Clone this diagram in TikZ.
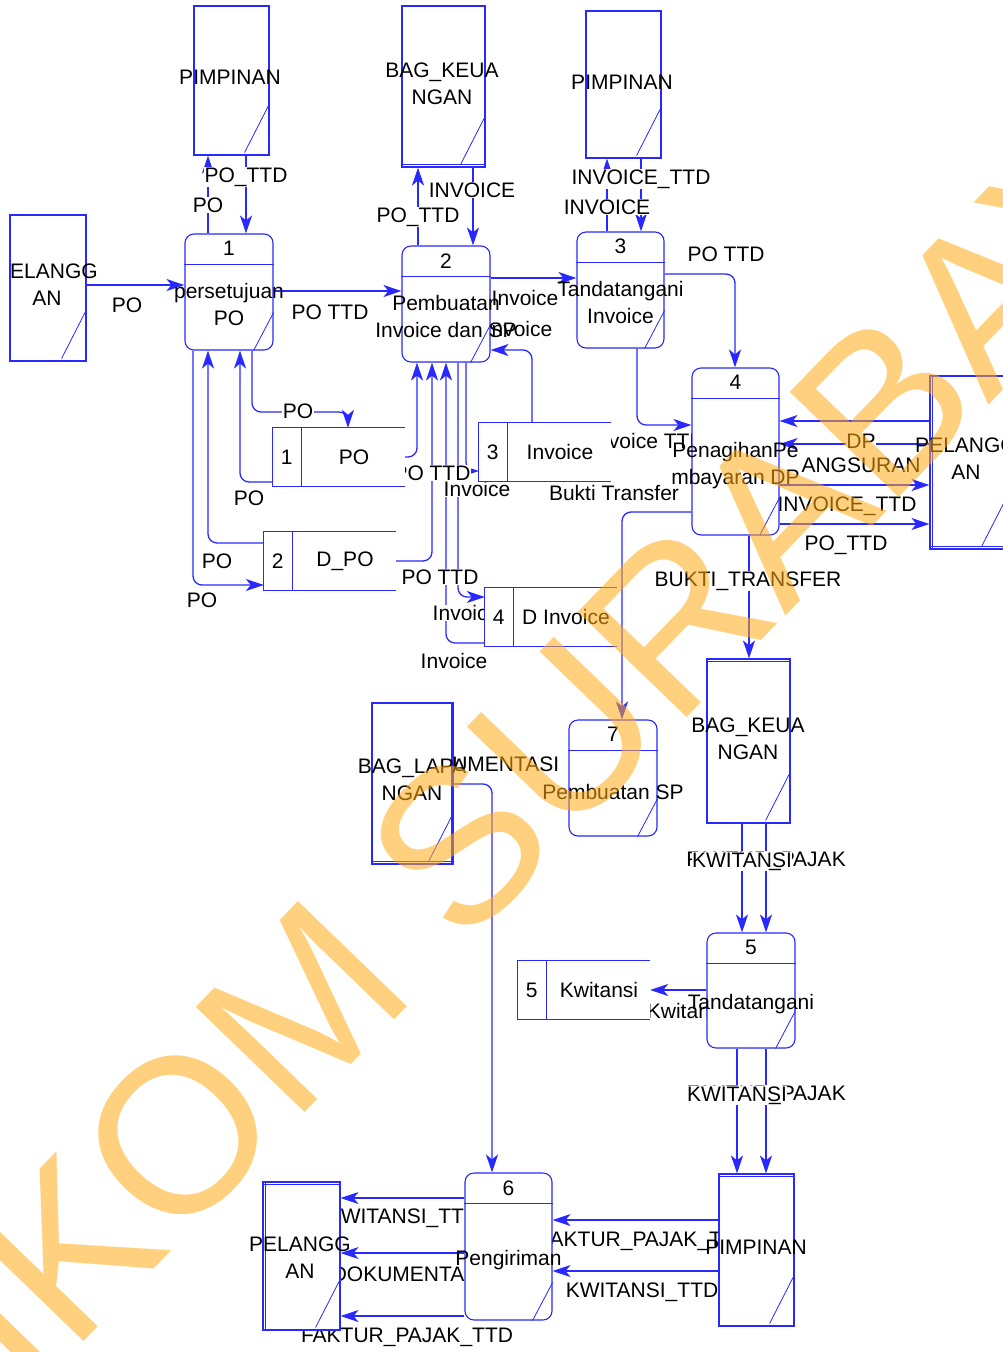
\documentclass[tikz,border=0pt]{standalone}
\usepackage{fontspec}
\setmainfont{Liberation Sans}
\usetikzlibrary{arrows.meta}
\pgfdeclarelayer{bg}
\pgfdeclarelayer{flows}
\pgfsetlayers{bg,flows,main}
\definecolor{dfdblue}{RGB}{40,40,255}
\definecolor{wmorange}{RGB}{255,170,20}
\newcommand{\dfdfont}{\fontsize{21}{27}\selectfont}

\begin{document}
\begin{tikzpicture}[x=1pt, y=-1pt, font=\dfdfont,
  flow/.style={draw=dfdblue, line width=1.3pt, rounded corners=9pt,
    -{Stealth[length=18pt,width=12pt,inset=5pt]}},
  lbl/.style={fill=white, inner sep=0.5pt},
  proc/.style={draw=dfdblue, fill=white, line width=1.1pt, rounded corners=9pt, inner sep=0pt},
  ext/.style={draw=dfdblue, fill=white, line width=1.1pt, inner sep=0pt},
  store/.style={fill=white, inner sep=0pt, minimum width=132pt, minimum height=58pt},
  edge line/.style={draw=dfdblue, line width=1.1pt}]

\useasboundingbox (0,0) rectangle (1003,1352);
\begin{pgfonlayer}{bg}
  \fill[white] (0,0) rectangle (1003,1352);
\end{pgfonlayer}

% data stores
\foreach \n/\x/\y/\num/\t in {d1/339/457/1/PO, d2/330/561/2/D\_PO, d3/545/452/3/Invoice,
    d4/551/617/4/D Invoice, d5/584/990/5/Kwitansi}
{
  \node [store] (\n) at (\x,\y) {};
  \draw [edge line] (\n.north east) -- (\n.north west) -- (\n.south west) -- (\n.south east);
  \draw [edge line] ([xshift=29pt]\n.north west) -- ([xshift=29pt]\n.south west);
  \node (\n-n) at ([xshift=14pt]\n.west) {\num};
  \node (\n-t) at ([xshift=15pt]\n.center) {\t};
}

% processes
\foreach \n/\x/\y/\w/\h in {p1/229/292/88/116, p2/446/304/88/116, p3/620.5/290/87/116,
    p4/735.5/451.5/87/167, p7/613/778/88/116, p5/751/990.5/88/115, p6/508.5/1246.5/87/147}
{
  \node [proc, minimum width=\w pt, minimum height=\h pt] (\n) at (\x,\y) {};
  \draw [edge line] ([yshift=-31pt]\n.north west) -- ([yshift=-31pt]\n.north east);
  \draw [edge line, line width=0.8pt] ([xshift=-20pt]\n.south east) -- ([yshift=38pt]\n.south east);
}

\foreach \n/\num/\ny/\t/\ty in {p1/1/248/persetujuan\\PO/304, p2/2/261/Pembuatan\\Invoice dan SP/316.5,
    p3/3/246/Tandatangani\\Invoice/302.5, p4/4/382/PenagihanPe\\mbayaran DP/466,
    p7/7/734/Pembuatan SP/792, p5/5/947/Tandatangani/1004, p6/6/1188/Pengiriman/1260}
{
  \node (\n-n) at (\n.center |- 0,\ny) {\num};
  \node [align=center] (\n-t) at (\n.center |- 0,\ty) {\t};
}

% external entities
\foreach \n/\x/\y/\w/\h in {pimA/231.5/80.5/75/149, keuA/443.5/86.5/83/161, pimB/623.5/84.5/75/147,
    pelA/48/288/76/146, pelB/968/462.5/76/173, keuB/748.5/741/83/164, lap/412.5/783.5/81/161,
    pimC/756.5/1250/75/152, pelC/301.5/1256/77/148}
{
  \node [ext, minimum width=\w pt, minimum height=\h pt] (\n) at (\x,\y) {};
  \draw [edge line, line width=0.8pt] ([xshift=-25pt,yshift=3pt]\n.south east)
    -- ([xshift=-1pt,yshift=50pt]\n.south east);
}

\foreach \n/\a/\b/\dx/\dy in {keuA/south west/south east/0/3, pelB/south west/south east/0/3,
    pelB/north west/south west/3/0, keuB/north west/north east/0/-3, lap/south west/south east/0/3,
    lap/north east/south east/-2/0, pimC/north west/north east/0/-3, pelC/north west/north east/0/-3,
    pelC/north west/south west/3/0}
  \draw [edge line, line width=0.8pt] ([xshift=\dx pt,yshift=\dy pt]\n.\a) -- ([xshift=\dx pt,yshift=\dy pt]\n.\b);

\foreach \n/\x/\y/\t in {pimA/230/77/PIMPINAN, keuA/442/83.5/BAG\_KEUA\\NGAN, pimB/622/82/PIMPINAN,
    pelB/966/459/PELANGG\\AN, keuB/748/739/BAG\_KEUA\\NGAN,
    lap/412/780/BAG\_LAPA\\NGAN, pimC/756/1247/PIMPINAN, pelC/300/1257.5/PELANGG\\AN}
  \node [align=center] (\n-t) at (\x,\y) {\t};

\begin{scope}
  \clip (pelA.north west) rectangle (140,400);
  \node [align=center] (pelA-t) at (47,284.5) {PELANGG\\AN};
\end{scope}

% flows
\begin{pgfonlayer}{flows}
\draw [flow] (pelA.east |- 0,285) -- (p1.west |- 0,285);
\draw [flow] (208,0 |- p1.north) -- (208,0 |- pimA.south);
\draw [flow] (246,0 |- pimA.south) -- (246,0 |- p1.north);
\draw [flow] (p1.east |- 0,291) -- (p2.west |- 0,291);
\draw [flow] (418,0 |- p2.north) -- (418,0 |- keuA.south);
\draw [flow] (473,0 |- keuA.south) -- (473,0 |- p2.north);
\draw [flow] (p2.east |- 0,278) -- (p3.west |- 0,278);
\draw [flow] (607,0 |- p3.north) -- (607,0 |- pimB.south);
\draw [flow] (641,0 |- pimB.south) -- (641,0 |- p3.north);
\draw [flow] (p3.east |- 0,274) -| (735,0 |- p4.north);
\draw [flow] (637,0 |- p3.south) |- (p4.west |- 0,425);
\draw [flow] (p4.west |- 0,512) -| (622,0 |- p7.north);
\draw [flow] (532,0 |- d3.north) |- (p2.east |- 0,350);
\draw [flow] (466,0 |- p2.south) |- (d3.west |- 0,471);
\draw [flow] (d1.east) -| (417,0 |- p2.south);
\draw [flow] (d2.east) -| (432,0 |- p2.south);
\draw [flow] (d4.west |- 0,643) -| (446,0 |- p2.south);
\draw [flow] (458,0 |- p2.south) |- (d4.west |- 0,597);
\draw [flow] (193,0 |- p1.south) |- (d2.west |- 0,585);
\draw [flow] (d2.west |- 0,543) -| (208,0 |- p1.south);
\draw [flow] (d1.west |- 0,482) -| (240,0 |- p1.south);
\draw [flow] (252,0 |- p1.south) |- (348,412) -- (348,0 |- d1.north);
\draw [flow] (pelB.west |- 0,421) -- (p4.east |- 0,421);
\draw [flow] (pelB.west |- 0,444) -- (p4.east |- 0,444);
\draw [flow] (p4.east |- 0,485) -- (pelB.west |- 0,485);
\draw [flow] (p4.east |- 0,524) -- (pelB.west |- 0,524);
\draw [flow] (749,0 |- p4.south) -- (749,0 |- keuB.north);
\draw [flow] (742,0 |- keuB.south) -- (742,0 |- p5.north);
\draw [flow] (766,0 |- keuB.south) -- (766,0 |- p5.north);
\draw [flow] (p5.west |- 0,990) -- (d5.east);
\draw [flow] (737,0 |- p5.south) -- (737,0 |- pimC.north);
\draw [flow] (766,0 |- p5.south) -- (766,0 |- pimC.north);
\draw [flow] (lap.east |- 0,784) -| (492,0 |- p6.north);
\draw [flow] (p6.west |- 0,1198) -- (pelC.east |- 0,1198);
\draw [flow] (p6.west |- 0,1253) -- (pelC.east |- 0,1253);
\draw [flow] (p6.west |- 0,1316) -- (pelC.east |- 0,1316);
\draw [flow] (pimC.west |- 0,1220) -- (p6.east |- 0,1220);
\draw [flow] (pimC.west |- 0,1271) -- (p6.east |- 0,1271);

\foreach [count=\i] \x/\y/\t in {127/305/PO, 208/205/PO, 246/177/PO\_TTD, 330/312/PO TTD,
    418/217/PO\_TTD, 472/190/INVOICE, 525/298/Invoice, 607/207/INVOICE, 641/179/INVOICE\_TTD,
    726/254/PO TTD, 648/441/Invoice TTD, 614/493/Bukti Transfer, 519/329/Invoice,
    477/489/Invoice, 432/473/PO TTD, 440/577/PO TTD, 454/661/Invoice, 466/613/Invoice,
    202/600/PO, 217/561/PO, 249/498/PO, 298/411/PO, 861/441/DP, 861/465/ANGSURAN,
    847/506/INVOICE\_TTD, 846/545/PO\_TTD, 748/581/BUKTI\_TRANSFER,
    766/861/FAKTUR\_PAJAK, 742/860/KWITANSI, 686/1011/Kwitansi,
    766/1095/FAKTUR\_PAJAK, 737/1094/KWITANSI, 483/764/DOKUMENTASI,
    403/1218/KWITANSI\_TTD, 408/1274/DOKUMENTASI, 407/1337/FAKTUR\_PAJAK\_TTD,
    644/1241/FAKTUR\_PAJAK\_TTD, 642/1292/KWITANSI\_TTD}
  \node [lbl] (f\i) at (\x,\y) {\t};
\end{pgfonlayer}

% watermark
\node [rotate=46, anchor=base west, text=wmorange, opacity=0.55, inner sep=0pt,
  font=\fontsize{220}{220}\selectfont] (wm) at (-166,1601) {STIKOM SURABAYA};
\end{tikzpicture}
\end{document}
